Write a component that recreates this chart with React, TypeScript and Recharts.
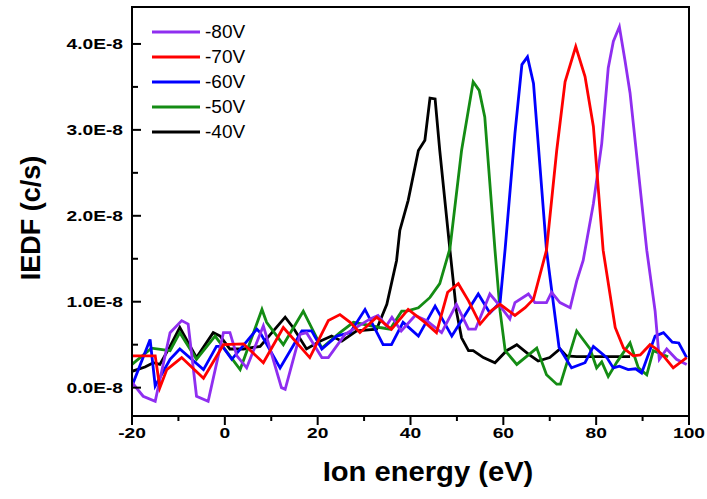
import React from 'react';
import { LineChart, Line, XAxis, YAxis, Legend, ReferenceArea } from 'recharts';

// ion energy (eV) / IEDF (x1E-8 c/s), one pair per bias voltage
const energy80 = [-20, -17.6, -15.0, -11.8, -9.3, -7.9, -6.1, -3.6, -0.3, 1.1, 2.6, 4.7, 8.3, 12.2, 13.0, 16.2, 17.6, 20.9, 22.3, 25.9, 31.3, 33.0, 34.8, 36.0, 38.0, 41.0, 43.5, 46.7, 49.9, 52.5, 54.0, 57.1, 59.3, 61.4, 62.5, 65.4, 66.8, 69.3, 70.4, 72.2, 74.4, 75.8, 77.2, 79.4, 81.2, 82.6, 83.7, 85.0, 86.2, 87.3, 90.9, 92.7, 93.6, 95.2, 97.3, 99.5];
const iedf80 = [0.06, -0.10, -0.16, 0.64, 0.78, 0.74, -0.10, -0.16, 0.64, 0.64, 0.37, 0.23, 0.72, 0.00, -0.02, 0.62, 0.64, 0.35, 0.35, 0.62, 0.80, 0.84, 0.72, 0.82, 0.66, 0.84, 0.78, 0.64, 0.97, 0.68, 0.68, 1.09, 0.95, 0.80, 0.99, 1.09, 0.99, 0.99, 1.11, 0.99, 0.93, 1.24, 1.48, 2.14, 2.84, 3.72, 4.03, 4.20, 3.81, 3.43, 1.60, 0.89, 0.33, 0.45, 0.33, 0.27];

const energy70 = [-20, -15.0, -14.0, -12.5, -9.3, -4.6, -0.3, 4.0, 8.3, 12.6, 18.3, 22.3, 24.8, 27.0, 29.1, 32.7, 35.9, 39.5, 43.1, 45.6, 48.0, 50.3, 52.5, 55.0, 57.5, 59.3, 62.5, 64.7, 66.5, 69.3, 71.5, 73.3, 75.6, 77.6, 79.4, 81.5, 84.1, 85.9, 88.0, 89.5, 91.6, 93.0, 94.8, 96.6, 99.5];
const iedf70 = [0.37, 0.37, 0.00, 0.21, 0.35, 0.11, 0.50, 0.51, 0.29, 0.70, 0.35, 0.78, 0.85, 0.76, 0.64, 0.82, 0.68, 0.91, 0.76, 0.64, 1.11, 1.21, 1.01, 0.74, 0.90, 0.97, 0.84, 0.93, 1.03, 1.60, 2.76, 3.56, 3.97, 3.62, 3.04, 1.60, 0.70, 0.46, 0.37, 0.38, 0.50, 0.45, 0.35, 0.23, 0.35];

const energy60 = [-20, -16.1, -15.0, -11.8, -9.7, -4.6, -1.8, -0.5, 1.5, 6.9, 7.6, 11.9, 16.6, 18.7, 20.9, 24.1, 27.0, 30.2, 34.1, 35.9, 38.4, 41.7, 45.3, 48.9, 54.6, 57.1, 59.3, 60.4, 62.5, 64.0, 65.2, 66.5, 69.3, 72.0, 74.7, 77.6, 79.4, 82.3, 83.7, 85.0, 86.9, 88.5, 89.8, 92.7, 94.5, 96.4, 97.8, 99.5];
const iedf60 = [0.02, 0.56, 0.02, 0.33, 0.45, 0.21, 0.48, 0.48, 0.33, 0.68, 0.64, 0.23, 0.66, 0.66, 0.45, 0.60, 0.64, 0.91, 0.50, 0.50, 0.76, 0.60, 0.95, 0.60, 1.09, 0.87, 0.99, 1.62, 2.96, 3.76, 3.85, 3.54, 1.60, 0.47, 0.23, 0.29, 0.48, 0.35, 0.23, 0.25, 0.21, 0.22, 0.17, 0.60, 0.64, 0.53, 0.52, 0.35];

const energy50 = [-20, -15.8, -11.8, -9.7, -6.1, -2.1, 3.3, 8.0, 9.0, 12.6, 16.9, 20.9, 24.8, 27.7, 33.4, 35.6, 38.1, 39.2, 41.7, 44.2, 46.3, 48.5, 51.0, 53.5, 54.8, 56.0, 58.2, 59.3, 60.4, 62.9, 67.2, 69.3, 71.5, 72.3, 75.8, 78.7, 80.1, 81.2, 82.6, 84.5, 87.3, 89.1, 90.9, 92.3, 95.5];
const iedf50 = [0.27, 0.46, 0.43, 0.64, 0.33, 0.60, 0.21, 0.91, 0.76, 0.50, 0.89, 0.46, 0.64, 0.76, 0.70, 0.68, 0.89, 0.89, 0.93, 1.05, 1.21, 1.62, 2.76, 3.56, 3.46, 3.15, 1.60, 0.89, 0.43, 0.27, 0.46, 0.15, 0.04, 0.04, 0.66, 0.45, 0.23, 0.30, 0.13, 0.30, 0.52, 0.23, 0.15, 0.43, 0.36];

const energy40 = [-20, -17.2, -15.4, -14.0, -11.8, -9.7, -6.1, -2.5, -1.0, 1.1, 4.0, 7.6, 13.0, 14.7, 17.6, 20.5, 23.0, 25.2, 28.4, 32.7, 34.9, 37.0, 37.7, 39.5, 41.7, 43.1, 44.2, 45.3, 46.3, 48.5, 49.9, 51.0, 52.5, 53.5, 55.7, 58.2, 60.7, 62.9, 65.4, 67.5, 70.0, 72.2, 73.6, 75.8, 81.0, 87.3];
const iedf40 = [0.19, 0.24, 0.29, 0.27, 0.48, 0.70, 0.35, 0.64, 0.60, 0.45, 0.45, 0.48, 0.82, 0.70, 0.45, 0.54, 0.60, 0.54, 0.66, 0.68, 0.97, 1.48, 1.83, 2.18, 2.76, 2.88, 3.37, 3.36, 2.76, 1.60, 0.89, 0.58, 0.43, 0.43, 0.35, 0.29, 0.43, 0.50, 0.39, 0.31, 0.35, 0.45, 0.37, 0.36, 0.36, 0.36];

const xTicks = [-20, -10, 0, 10, 20, 30, 40, 50, 60, 70, 80, 90, 100];
const yTicks = [0, 0.5, 1, 1.5, 2, 2.5, 3, 3.5, 4];
const xDomain: [number, number] = [-20, 100];
const yDomain: [number, number] = [-0.33, 4.43];

const series = [
  { name: '-80V', color: '#8f2ef0', x: energy80, y: iedf80 },
  { name: '-70V', color: '#ff0000', x: energy70, y: iedf70 },
  { name: '-60V', color: '#0000ff', x: energy60, y: iedf60 },
  { name: '-50V', color: '#148c14', x: energy50, y: iedf50 },
  { name: '-40V', color: '#000000', x: energy40, y: iedf40 },
];
// draw order: black at the bottom, red on top
const drawOrder = ['-40V', '-50V', '-60V', '-80V', '-70V'];

const FONT = '"Liberation Sans", Arial, sans-serif';

const XTick = (props: any) => {
  const { x, y, payload } = props;
  const major = payload.value % 20 === 0;
  return (
    <g>
      <line x1={x} y1={y} x2={x} y2={y + (major ? 9 : 5)} stroke="#000" strokeWidth={2} />
      {major && (
        <text transform={`translate(${x},${y + 22}) scale(1.28,1)`} textAnchor="middle"
          fontFamily={FONT} fontWeight="bold" fontSize={15} fill="#000">
          {payload.value}
        </text>
      )}
    </g>
  );
};

const YTick = (props: any) => {
  const { x, y, payload } = props;
  const major = Number.isInteger(payload.value);
  return (
    <g>
      <line x1={x} y1={y} x2={x + (major ? 9 : 6)} y2={y} stroke="#000" strokeWidth={2} />
      {major && (
        <text transform={`translate(${x - 9},${y + 5.5}) scale(1.28,1)`} textAnchor="end"
          fontFamily={FONT} fontWeight="bold" fontSize={15} fill="#000">
          {payload.value.toFixed(1)}E-8
        </text>
      )}
    </g>
  );
};

const XTitle = () => (
  <text transform="translate(428,481) scale(1.08,1)" textAnchor="middle"
    fontFamily={FONT} fontWeight="bold" fontSize={27} fill="#000">
    Ion energy (eV)
  </text>
);

const YTitle = () => (
  <text transform="translate(31,218) rotate(-90)" textAnchor="middle" dominantBaseline="central"
    fontFamily={FONT} fontWeight="bold" fontSize={27} fill="#000">
    IEDF (c/s)
  </text>
);

const LegendBox = () => (
  <div style={{ fontFamily: FONT, fontSize: 19, color: '#000' }}>
    {series.map((s) => (
      <div key={s.name} style={{ display: 'flex', alignItems: 'center', height: 25 }}>
        <svg width={48} height={4} style={{ marginRight: 5 }}>
          <line x1={0} y1={2} x2={48} y2={2} stroke={s.color} strokeWidth={3} />
        </svg>
        <span>{s.name}</span>
      </div>
    ))}
  </div>
);

const App = () => (
  <div style={{ position: 'absolute', left: 0, top: 0, background: '#fff' }}>
    <LineChart width={707} height={499} margin={{ top: 7, right: 18, left: 0, bottom: 0 }}>
      <XAxis type="number" dataKey="e" domain={xDomain} ticks={xTicks} interval={0} allowDataOverflow
        height={83} tickSize={0} tickMargin={0} tickLine={false} tick={XTick}
        axisLine={{ stroke: '#000', strokeWidth: 2 }} label={<XTitle />} />
      <YAxis type="number" dataKey="v" domain={yDomain} ticks={yTicks} interval={0} allowDataOverflow
        width={132} tickSize={0} tickMargin={0} tickLine={false} tick={YTick}
        axisLine={{ stroke: '#000', strokeWidth: 2 }} label={<YTitle />} />
      <ReferenceArea x1={xDomain[0]} x2={xDomain[1]} y1={yDomain[0]} y2={yDomain[1]}
        fill="none" fillOpacity={0} stroke="#000" strokeWidth={2} ifOverflow="visible" />
      {drawOrder.map((n) => {
        const s = series.find((q) => q.name === n)!;
        const data = s.x.map((e, i) => ({ e, v: s.y[i] }));
        return (
          <Line key={s.name} data={data} dataKey="v" name={s.name} type="linear" stroke={s.color}
            strokeWidth={2.8} dot={false} activeDot={false} isAnimationActive={false} />
        );
      })}
      <Legend layout="vertical" align="center" verticalAlign="middle" content={LegendBox}
        wrapperStyle={{ left: 152, top: 19.5, width: 'auto' }} />
    </LineChart>
  </div>
);

export default App;
